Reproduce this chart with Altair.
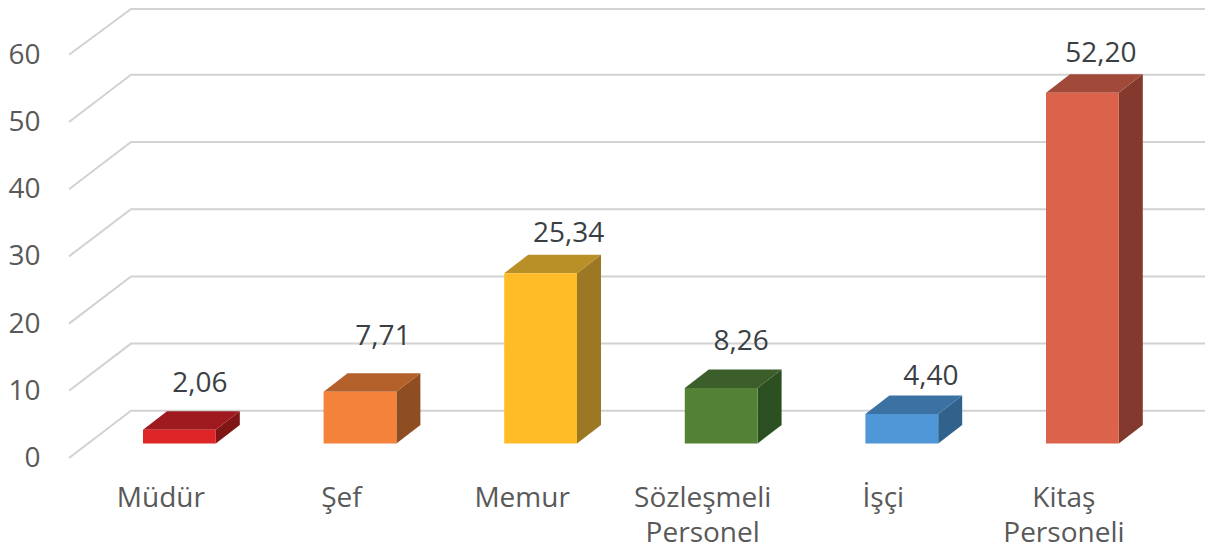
import altair as alt
import pandas as pd

categories = ["Müdür", "Şef", "Memur", "Sözleşmeli\nPersonel", "İşçi", "Kitaş\nPersoneli"]
values = [2.06, 7.71, 25.34, 8.26, 4.40, 52.20]
value_labels = ["2,06", "7,71", "25,34", "8,26", "4,40", "52,20"]
front_colors = ["#DE2527", "#F4823B", "#FFBC27", "#538135", "#4F97D6", "#DB634B"]
top_colors = ["#9E1A1E", "#B3602B", "#B98F27", "#3B5E2B", "#3B72A3", "#A14A3A"]
side_colors = ["#7F1515", "#8E4E22", "#9C7824", "#2C5022", "#31628C", "#83392E"]
ticks = [0, 10, 20, 30, 40, 50, 60]
label_shift_x = [20.5, 23, 28, 20, 29, 18.5]
label_shift_y = [46, 54.5, 39.5, 45.5, 36.5, 39]

# chart geometry, in chart units
PX = 6.72                # chart units per value unit on the vertical scale
BASE = 443.5
X0, X1 = 69, 1205
PAGE_BOTTOM = 556
Y_BOTTOM, Y_TOP = (BASE - PAGE_BOTTOM) / PX, (BASE - 8) / PX
FIRST, STEP, W = 143.0, 180.6, 72.8
DX, DY = 24, 18.5 / PX
WALL_X, WALL_DY, FRONT_DY = 131, 32.7 / PX, -14.5 / PX
CAT_Y = (BASE - 507) / PX

front, side, top, labels, cats, grid = [], [], [], [], [], []
for i, (c, v) in enumerate(zip(categories, values)):
    l = FIRST + STEP * i
    r = l + W
    front.append(dict(c=c, x=l, x2=r, y=0, y2=v))
    side += [dict(c=c, x=r, y=v, y2=0), dict(c=c, x=r + DX, y=v + DY, y2=DY)]
    top += [
        dict(c=c, x=l, y=v, y2=v),
        dict(c=c, x=l + DX, y=v + DY, y2=v),
        dict(c=c, x=r, y=v + DY, y2=v),
        dict(c=c, x=r + DX, y=v + DY, y2=v + DY),
    ]
    labels.append(dict(x=(l + r) / 2 + label_shift_x[i], y=v + label_shift_y[i] / PX, t=value_labels[i]))
    cats.append(dict(x=(l + r) / 2 - 18.5, y=CAT_Y, t=c))
for t in ticks:
    wall = min(t + WALL_DY, Y_TOP - 1 / PX)  # the page margin would cut the top line
    grid += [
        dict(t=t, x=X0, y=t + FRONT_DY, o=0),
        dict(t=t, x=WALL_X, y=wall, o=1),
        dict(t=t, x=X1, y=wall, o=2),
    ]

xs = alt.Scale(domain=[X0, X1], nice=False, zero=False)
ys = alt.Scale(domain=[Y_BOTTOM, Y_TOP], nice=False, zero=False)
X = alt.X("x:Q", scale=xs, axis=None)
Y = alt.Y(
    "y:Q",
    scale=ys,
    stack=None,
    axis=alt.Axis(
        values=ticks, title=None, grid=False, domain=False, ticks=False,
        labelFontSize=28, labelFont="Open Sans", labelColor="#595959",
        labelPadding=29, labelOffset=15, labelFlush=False, labelOverlap=False,
    ),
)


def col(rng):
    return alt.Color("c:N", scale=alt.Scale(domain=categories, range=rng), legend=None)


grid_layer = alt.Chart(pd.DataFrame(grid)).mark_line(color="#D2D2D2", strokeWidth=2).encode(
    x=X, y=Y, detail="t:N", order="o:Q"
)
side_layer = alt.Chart(pd.DataFrame(side)).mark_area(opacity=1).encode(
    x=X, y=Y, y2="y2:Q", color=col(side_colors)
)
top_layer = alt.Chart(pd.DataFrame(top)).mark_area(opacity=1).encode(
    x=X, y=Y, y2="y2:Q", color=col(top_colors)
)
front_layer = alt.Chart(pd.DataFrame(front)).mark_rect().encode(
    x=X, x2="x2:Q", y=Y, y2="y2:Q", color=col(front_colors)
)
label_layer = alt.Chart(pd.DataFrame(labels)).mark_text(
    font="Open Sans", fontSize=28, color="#3B3F44", baseline="middle", align="center"
).encode(x=X, y=Y, text="t:N")
cat_layer = alt.Chart(pd.DataFrame(cats)).mark_text(
    font="Open Sans", fontSize=28, color="#595959", baseline="alphabetic", align="center",
    lineBreak="\n", lineHeight=35,
).encode(x=X, y=Y, text="t:N")

chart = (
    alt.layer(grid_layer, side_layer, top_layer, front_layer, label_layer, cat_layer)
    .resolve_scale(color="independent")
    .properties(
        width=X1 - X0,
        height=PAGE_BOTTOM - 8,
        autosize="none",
        padding={"left": X0 - 8, "top": 0, "right": 0, "bottom": 0},
        background="white",
    )
    .configure_view(stroke=None)
)
chart.save("out.html", embed_options={"renderer": "svg", "actions": False})
